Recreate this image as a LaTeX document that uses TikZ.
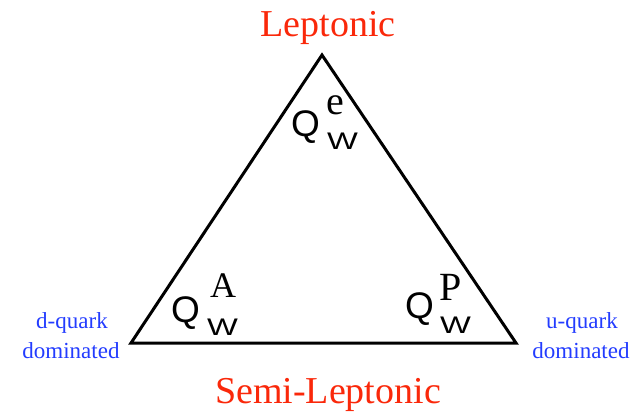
\documentclass[tikz,border=0pt]{standalone}
\usepackage{fontspec}
\usepackage{graphicx}
\setmainfont{Liberation Serif}
\newfontfamily\qfont{Liberation Sans}
\definecolor{titlered}{RGB}{250,40,10}
\definecolor{noteblue}{RGB}{35,60,255}
\newcommand{\wideW}{\scalebox{1.36}[1]{W}}
\begin{document}
\begin{tikzpicture}[x=1pt,y=-1pt,
  title/.style={text=titlered,font=\fontsize{38}{40}\selectfont,anchor=base,inner sep=0pt},
  note/.style={text=noteblue,font=\fontsize{23}{25}\selectfont,anchor=base,inner sep=0pt},
  qlet/.style={font=\qfont\fontsize{37}{39}\selectfont,anchor=base west,inner sep=0pt},
  suplet/.style={font=\fontsize{36}{38}\selectfont,anchor=base west,inner sep=0pt},
  sublet/.style={font=\qfont\fontsize{24}{26}\selectfont,anchor=base west,inner sep=0pt},
  edge/.style={line width=3pt,line join=miter}]
\useasboundingbox (0,0) rectangle (632,414);
\coordinate (top) at (322,55);
\coordinate (bl) at (131,343);
\coordinate (br) at (516,343);
\draw[edge] (top) -- (br) -- (bl) -- cycle;
\node[title] (lep) at (328,37) {Leptonic};
\node[title] (semi) at (328,403) {Semi-Leptonic};
\node[note] (d1) at (72,328) {d-quark};
\node[note] (d2) at (71,358) {dominated};
\node[note] (u1) at (582,328) {u-quark};
\node[note] (u2) at (581,358) {dominated};
% top
\node[qlet] (q1) at (291,137) {Q};
\node[suplet,font=\fontsize{40}{42}\selectfont] (e1) at (326,115) {e};
\node[sublet] (w1) at (327,150) {\wideW};
% A
\node[qlet] (q2) at (171,322) {Q};
\node[suplet] (a2) at (210,298) {A};
\node[sublet] (w2) at (207,335) {\wideW};
% P
\node[qlet] (q3) at (405,318) {Q};
\node[suplet,font=\fontsize{40}{42}\selectfont] (p3) at (439,301) {P};
\node[sublet] (w3) at (440,333) {\wideW};
\end{tikzpicture}
\end{document}
